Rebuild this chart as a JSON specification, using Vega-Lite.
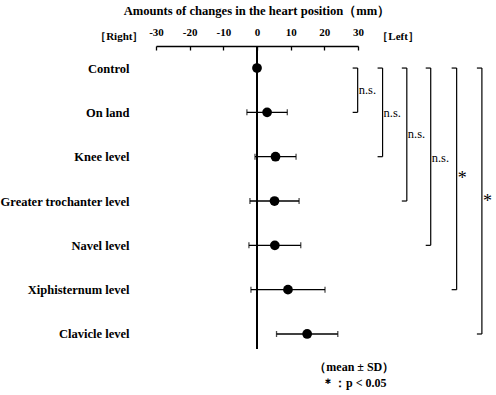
{
  "$schema": "https://vega.github.io/schema/vega-lite/v6.json",
  "width": 202,
  "height": 303,
  "autosize": "none",
  "padding": {"left": 156, "top": 46, "right": 138, "bottom": 46},
  "background": "white",
  "config": {"view": {"stroke": null}, "font": "Liberation Serif", "axis": {"labelOverlap": false, "labelFlush": false}},
  "title": {"text": "Amounts of changes in the heart position（mm）", "fontSize": 12.6, "fontWeight": "bold", "font": "Liberation Serif", "color": "black", "offset": 8},
  "datasets": {
    "rows": [
      {"condition": "Control", "mean": 0, "sd": null},
      {"condition": "On land", "mean": 3.0, "sd": 6.0},
      {"condition": "Knee level", "mean": 5.5, "sd": 6.1},
      {"condition": "Greater trochanter level", "mean": 5.2, "sd": 7.3},
      {"condition": "Navel level", "mean": 5.3, "sd": 7.7},
      {"condition": "Xiphisternum level", "mean": 9.2, "sd": 11.0},
      {"condition": "Clavicle level", "mean": 14.9, "sd": 9.1}
    ],
    "brackets": [
      {"from": "Control", "to": "On land", "bx": 29.9, "sig": "n.s.", "labelRow": "Control", "between": true},
      {"from": "Control", "to": "Knee level", "bx": 37.3, "sig": "n.s.", "labelRow": "On land", "between": false},
      {"from": "Control", "to": "Greater trochanter level", "bx": 44.5, "sig": "n.s.", "labelRow": "On land", "between": true},
      {"from": "Control", "to": "Navel level", "bx": 51.6, "sig": "n.s.", "labelRow": "Knee level", "between": false},
      {"from": "Control", "to": "Xiphisternum level", "bx": 59.3, "sig": "*", "labelRow": "Knee level", "between": true},
      {"from": "Control", "to": "Clavicle level", "bx": 66.8, "sig": "*", "labelRow": "Greater trochanter level", "between": false}
    ],
    "sides": [
      {"side": "［Right］", "at": -40.9},
      {"side": "［Left］", "at": 41.9}
    ],
    "notes": [
      {"note": "（mean ± SD）"}
    ]
  },
  "layer": [
    {
      "data": {"name": "rows"},
      "mark": {"type": "circle", "color": "black", "opacity": 1, "size": 95},
      "encoding": {
        "x": {"field": "mean", "type": "quantitative", "scale": {"domain": [-30, 30], "nice": false, "zero": false},
          "axis": {"orient": "top", "values": [-30, -20, -10, 0, 10, 20, 30], "tickCount": 20, "title": null, "grid": false,
            "labelOverlap": false, "labelFlush": false, "labelBound": false,
            "labelExpr": "'' + datum.value", "labelFont": "Liberation Serif", "labelFontWeight": "bold", "labelFontSize": 11, "labelColor": "black",
            "tickSize": -4, "tickColor": "black", "tickWidth": 1.3, "domainColor": "black", "domainWidth": 1.4, "labelPadding": 13}},
        "y": {"field": "condition", "type": "nominal", "sort": null,
          "scale": {"type": "point", "domain": ["Control", "On land", "Knee level", "Greater trochanter level", "Navel level", "Xiphisternum level", "Clavicle level"], "padding": 0.418, "align": 0.595},
          "axis": {"orient": "left", "title": null, "ticks": false, "domain": false, "labelPadding": 27, "labelFont": "Liberation Serif", "labelFontWeight": "bold", "labelFontSize": 12.5, "labelColor": "black"}}
      }
    },
    {
      "data": {"name": "rows"},
      "mark": {"type": "rule", "color": "black", "strokeWidth": 1.6},
      "encoding": {
        "x": {"datum": 0, "type": "quantitative"}
      }
    },
    {
      "data": {"name": "rows"},
      "transform": [{"filter": "datum.sd != null"}],
      "mark": {"type": "errorbar", "ticks": {"size": 6, "color": "black", "thickness": 1.3}, "rule": {"color": "black", "strokeWidth": 1.3}},
      "encoding": {
        "x": {"field": "mean", "type": "quantitative"},
        "xError": {"field": "sd"},
        "y": {"field": "condition", "type": "nominal", "sort": null}
      }
    },
    {
      "data": {"name": "brackets"},
      "mark": {"type": "rule", "color": "black", "strokeWidth": 1.2},
      "encoding": {
        "x": {"field": "bx", "type": "quantitative"},
        "y": {"field": "from", "type": "nominal"},
        "y2": {"field": "to"}
      }
    },
    {
      "data": {"name": "brackets"},
      "mark": {"type": "rule", "color": "black", "strokeWidth": 1.2, "x2Offset": -5},
      "encoding": {
        "x": {"field": "bx", "type": "quantitative"},
        "x2": {"field": "bx"},
        "y": {"field": "from", "type": "nominal"}
      }
    },
    {
      "data": {"name": "brackets"},
      "mark": {"type": "rule", "color": "black", "strokeWidth": 1.2, "x2Offset": -5},
      "encoding": {
        "x": {"field": "bx", "type": "quantitative"},
        "x2": {"field": "bx"},
        "y": {"field": "to", "type": "nominal"}
      }
    },
    {
      "data": {"name": "brackets"},
      "transform": [{"filter": "datum.between"}],
      "mark": {"type": "text", "align": "left", "baseline": "middle", "dx": 1, "dy": 22, "font": "Liberation Serif", "color": "black"},
      "encoding": {
        "x": {"field": "bx", "type": "quantitative"},
        "y": {"field": "labelRow", "type": "nominal"},
        "text": {"field": "sig"},
        "size": {"condition": {"test": "datum.sig == '*'", "value": 18}, "value": 12.5}
      }
    },
    {
      "data": {"name": "brackets"},
      "transform": [{"filter": "!datum.between"}],
      "mark": {"type": "text", "align": "left", "baseline": "middle", "dx": 1, "dy": 1, "font": "Liberation Serif", "color": "black"},
      "encoding": {
        "x": {"field": "bx", "type": "quantitative"},
        "y": {"field": "labelRow", "type": "nominal"},
        "text": {"field": "sig"},
        "size": {"condition": {"test": "datum.sig == '*'", "value": 18}, "value": 12.5}
      }
    },
    {
      "data": {"name": "sides"},
      "mark": {"type": "text", "y": -9, "baseline": "middle", "align": "center", "font": "Liberation Serif", "fontWeight": "bold", "fontSize": 11, "color": "black"},
      "encoding": {"x": {"field": "at", "type": "quantitative"}, "text": {"field": "side"}}
    },
    {
      "data": {"name": "notes"},
      "mark": {"type": "text", "text": ["（mean ± SD）", "＊：p < 0.05"], "y": {"expr": "height + 13"}, "lineHeight": 16, "baseline": "top", "align": "center", "font": "Liberation Serif", "fontWeight": "bold", "fontSize": 12, "color": "black"},
      "encoding": {"x": {"datum": 28.9, "type": "quantitative"}}
    }
  ]
}
